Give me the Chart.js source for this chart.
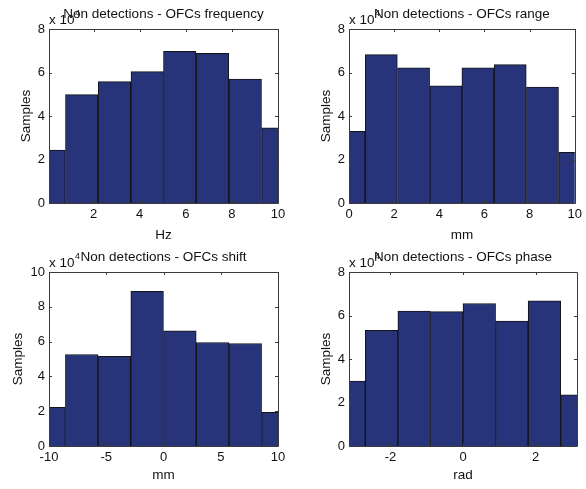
<!DOCTYPE html>
<html>
<head>
<meta charset="utf-8">
<script src="https://cdn.jsdelivr.net/npm/chart.js@4.4.1/dist/chart.umd.min.js"></script>
<style>
  body { margin: 0; background: #fff; }
  #wrap { position: relative; width: 586px; height: 489px; }
  .panel { position: absolute; }
</style>
</head>
<body>
<div id="wrap">
  <div class="panel" style="left:0;top:0"><canvas id="c1" width="293" height="245"></canvas></div>
  <div class="panel" style="left:293px;top:0"><canvas id="c2" width="293" height="245"></canvas></div>
  <div class="panel" style="left:0;top:245px"><canvas id="c3" width="293" height="244"></canvas></div>
  <div class="panel" style="left:293px;top:245px"><canvas id="c4" width="293" height="244"></canvas></div>
</div>
<script>
// histogram data (counts are raw samples, axis shows x 10^4)
const freqCenters = [0.07, 1.49, 2.91, 4.33, 5.74, 7.16, 8.58, 10.0];
const freqCounts = [24300, 49800, 55800, 60400, 69700, 68800, 57000, 34600];
const freqTicks = [2, 4, 6, 8, 10];

const rangeCenters = [0, 1.43, 2.86, 4.29, 5.71, 7.14, 8.57, 10];
const rangeCounts = [32900, 68200, 62100, 53900, 62100, 63600, 53300, 23300];
const rangeTicks = [0, 2, 4, 6, 8, 10];

const shiftCenters = [-10, -7.14, -4.29, -1.43, 1.43, 4.29, 7.14, 10];
const shiftCounts = [22200, 52600, 51600, 88900, 66200, 59500, 58900, 19300];
const shiftTicks = [-10, -5, 0, 5, 10];

const phaseCenters = [-3.1416, -2.2440, -1.3464, -0.4488, 0.4488, 1.3464, 2.2440, 3.1416];
const phaseCounts = [29800, 53200, 62000, 61800, 65500, 57400, 66800, 23500];
const phaseTicks = [-2, 0, 2];

const countTicks8 = [0, 20000, 40000, 60000, 80000];
const countTicks10 = [0, 20000, 40000, 60000, 80000, 100000];

const FONT = "'Liberation Sans', Arial, sans-serif";
const BAR_COLOR = '#27347a';

// matlab-ish box, inward ticks, title and exponent label
const matlabAxes = {
  id: 'matlabAxes',
  afterDraw(chart, args, opts) {
    const { ctx, chartArea: a, scales: { x, y } } = chart;
    ctx.save();
    ctx.strokeStyle = '#3a3a3a';
    ctx.lineWidth = 1;
    ctx.beginPath();
    ctx.rect(Math.round(a.left) + 0.5, Math.round(a.top) + 0.5,
             Math.round(a.right - a.left), Math.round(a.bottom - a.top));
    ctx.stroke();

    const tl = 3;
    ctx.beginPath();
    x.ticks.forEach(t => {
      const px = Math.round(x.getPixelForValue(t.value)) + 0.5;
      ctx.moveTo(px, a.bottom); ctx.lineTo(px, a.bottom - tl);
      ctx.moveTo(px, a.top); ctx.lineTo(px, a.top + tl);
    });
    y.ticks.forEach(t => {
      const py = Math.round(y.getPixelForValue(t.value)) + 0.5;
      ctx.moveTo(a.left, py); ctx.lineTo(a.left + tl, py);
      ctx.moveTo(a.right, py); ctx.lineTo(a.right - tl, py);
    });
    ctx.stroke();

    ctx.fillStyle = '#111';
    ctx.textBaseline = 'middle';
    ctx.textAlign = 'left';
    ctx.font = '13.5px ' + FONT;
    ctx.fillText('x 10', a.left, a.top - 9);
    const w = ctx.measureText('x 10').width;
    ctx.font = '9px ' + FONT;
    ctx.fillText('4', a.left + w + 0.5, a.top - 15);

    ctx.font = '13.5px ' + FONT;
    ctx.textAlign = 'center';
    ctx.fillText(opts.text, (a.left + a.right) / 2, a.top - 15);
    ctx.restore();
  }
};

function histChart(id, p) {
  new Chart(document.getElementById(id), {
    type: 'bar',
    data: {
      datasets: [{
        data: p.centers.map((c, i) => ({ x: c, y: p.counts[i] })),
        backgroundColor: BAR_COLOR,
        borderColor: '#141414',
        borderWidth: 1,
        barPercentage: 1,
        categoryPercentage: 1,
        clip: 0
      }]
    },
    options: {
      responsive: false,
      animation: false,
      layout: { padding: { left: 0, top: p.top, right: p.right, bottom: 0 } },
      plugins: {
        legend: { display: false },
        tooltip: { enabled: false },
        matlabAxes: { text: p.title }
      },
      scales: {
        x: {
          type: 'linear',
          offset: false,
          min: p.xmin,
          max: p.xmax,
          afterBuildTicks: s => { s.ticks = p.xticks.map(v => ({ value: v })); },
          afterFit: s => { s.height = p.xh; },
          grid: { display: false, drawTicks: false },
          border: { display: false },
          ticks: { color: '#111', padding: 4, maxRotation: 0, font: { family: FONT, size: 13 } },
          title: { display: true, text: p.xlabel, color: '#111', padding: { top: 0, bottom: p.xtp },
                   font: { family: FONT, size: 13.5 } }
        },
        y: {
          min: 0,
          max: p.ymax,
          afterBuildTicks: s => { s.ticks = p.yticks.map(v => ({ value: v })); },
          afterFit: s => { s.width = p.yw; },
          grid: { display: false, drawTicks: false },
          border: { display: false },
          ticks: { color: '#111', padding: 4, callback: v => v / 10000, font: { family: FONT, size: 13 } },
          title: { display: true, text: 'Samples', color: '#111', padding: { top: p.ytp, bottom: 0 },
                   font: { family: FONT, size: 13.5 } }
        }
      }
    },
    plugins: [matlabAxes]
  });
}

histChart('c1', { centers: freqCenters, counts: freqCounts, xticks: freqTicks, xmin: 0.07, xmax: 10,
  yticks: countTicks8, ymax: 80000, title: 'Non detections - OFCs frequency', xlabel: 'Hz',
  top: 29, right: 15, yw: 49, xh: 42, ytp: 18, xtp: 2 });
histChart('c2', { centers: rangeCenters, counts: rangeCounts, xticks: rangeTicks, xmin: 0, xmax: 10,
  yticks: countTicks8, ymax: 80000, title: 'Non detections - OFCs range', xlabel: 'mm',
  top: 29, right: 9, yw: 56, xh: 42, ytp: 25, xtp: 2 });
histChart('c3', { centers: shiftCenters, counts: shiftCounts, xticks: shiftTicks, xmin: -10, xmax: 10,
  yticks: countTicks10, ymax: 100000, title: 'Non detections - OFCs shift', xlabel: 'mm',
  top: 27, right: 15, yw: 49, xh: 43, ytp: 10, xtp: 6 });
histChart('c4', { centers: phaseCenters, counts: phaseCounts, xticks: phaseTicks, xmin: -3.1416, xmax: 3.1416,
  yticks: countTicks8, ymax: 80000, title: 'Non detections - OFCs phase', xlabel: 'rad',
  top: 27, right: 9, yw: 56, xh: 43, ytp: 25, xtp: 6 });
</script>
</body>
</html>
